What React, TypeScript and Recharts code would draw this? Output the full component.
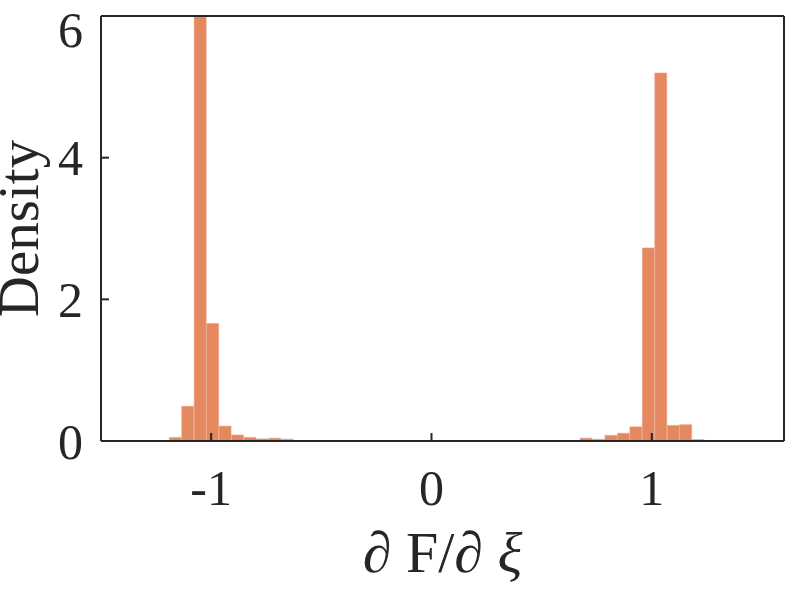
import React from 'react';
import { ComposedChart, Bar, XAxis, YAxis, Label } from 'recharts';

const binCenters = [
  -1.1618, -1.1053, -1.0488, -0.9923, -0.9358, -0.8793, -0.8228, -0.7663, -0.7098, -0.6533,
  -0.5968, -0.5403, -0.4838, -0.4273, -0.3708, -0.3143, -0.2578, -0.2013, -0.1448, -0.0883,
  -0.0318, 0.0247, 0.0812, 0.1377, 0.1942, 0.2507, 0.3072, 0.3637, 0.4202, 0.4767,
  0.5332, 0.5897, 0.6462, 0.7027, 0.7592, 0.8157, 0.8722, 0.9287, 0.9852, 1.0417,
  1.0982, 1.1547, 1.2112,
];

const density = [
  0.05, 0.49, 6.6, 1.66, 0.21, 0.085, 0.05, 0.03, 0.04, 0.025,
  0, 0, 0, 0, 0, 0, 0, 0, 0.004, 0.004,
  0, 0, 0, 0, 0.004, 0.004, 0.004, 0.004, 0, 0,
  0, 0, 0, 0.04, 0.024, 0.08, 0.11, 0.2, 2.725, 5.195,
  0.22, 0.23, 0.02,
];

const xTicks = [-1, 0, 1];
const yTicks = [0, 2, 4, 6];

const data = binCenters.map((x, i) => ({ x, d: density[i] }));

const AXIS = '#262626';
const FONT = '"Liberation Serif", "Times New Roman", serif';

export default function App() {
  return (
    <div style={{ position: 'absolute', left: 0, top: 0, background: '#fff' }}>
      <ComposedChart
        width={793}
        height={591}
        data={data}
        margin={{ top: 15, right: 8, bottom: 0, left: 0 }}
        barCategoryGap={0}
        barGap={0}
      >
        <XAxis
          dataKey="x"
          type="number"
          domain={[-1.5, 1.6]}
          ticks={xTicks}
          allowDataOverflow
          height={150}
          tickSize={-8}
          tickMargin={36}
          tickFormatter={(v: number) => String(v)}
          axisLine={{ stroke: AXIS, strokeWidth: 2 }}
          tickLine={{ stroke: AXIS, strokeWidth: 2 }}
          tick={{ fill: AXIS, fontSize: 50, fontFamily: FONT }}
        >
          <Label
            content={(props: any) => {
              const vb = props.viewBox || {};
              const cx = vb.x + vb.width / 2;
              return (
                <text
                  x={cx}
                  y={572}
                  textAnchor="middle"
                  fill={AXIS}
                  fontSize={58}
                  fontFamily={FONT}
                >
                  <tspan fontStyle="italic">∂</tspan>
                  <tspan>{'\u00a0F/'}</tspan>
                  <tspan fontStyle="italic">∂</tspan>
                  <tspan>{'\u00a0'}</tspan>
                  <tspan fontStyle="italic">ξ</tspan>
                </text>
              );
            }}
          />
        </XAxis>
        <XAxis
          xAxisId="top"
          dataKey="x"
          orientation="top"
          type="number"
          domain={[-1.5, 1.6]}
          ticks={xTicks}
          allowDataOverflow
          height={1}
          tickSize={-8}
          tick={false}
          axisLine={{ stroke: AXIS, strokeWidth: 2 }}
          tickLine={{ stroke: AXIS, strokeWidth: 2 }}
        />
        <YAxis
          type="number"
          domain={[0, 6]}
          ticks={yTicks}
          allowDataOverflow
          width={101}
          tickSize={-8}
          tickMargin={26}
          axisLine={{ stroke: AXIS, strokeWidth: 2 }}
          tickLine={{ stroke: AXIS, strokeWidth: 2 }}
          tick={{ fill: AXIS, fontSize: 50, fontFamily: FONT }}
        >
          <Label
            content={(props: any) => {
              const vb = props.viewBox || {};
              const cy = vb.y + vb.height / 2;
              return (
                <text
                  x={38}
                  y={cy}
                  transform={`rotate(-90, 38, ${cy})`}
                  textAnchor="middle"
                  fill={AXIS}
                  fontSize={57}
                  fontFamily={FONT}
                >
                  Density
                </text>
              );
            }}
          />
        </YAxis>
        <YAxis
          yAxisId="right"
          orientation="right"
          type="number"
          domain={[0, 6]}
          ticks={yTicks}
          allowDataOverflow
          width={1}
          tickSize={-8}
          tick={false}
          axisLine={{ stroke: AXIS, strokeWidth: 2 }}
          tickLine={{ stroke: AXIS, strokeWidth: 2 }}
        />
        <Bar
          dataKey="d"
          fill="#E4895F"
          stroke="#EEA37F"
          strokeWidth={0.6}
          isAnimationActive={false}
        />
        <Bar
          xAxisId="top"
          yAxisId="right"
          dataKey="d"
          fill="none"
          stroke="none"
          legendType="none"
          isAnimationActive={false}
        />
      </ComposedChart>
    </div>
  );
}
